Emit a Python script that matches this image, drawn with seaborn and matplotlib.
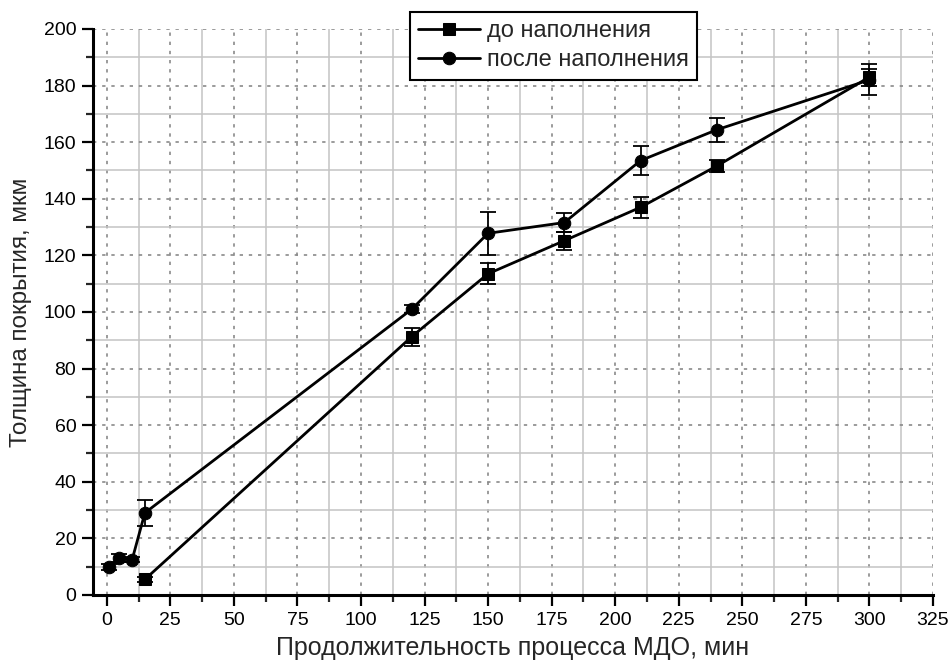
# Толщина покрытия в зависимости от продолжительности МДО
import numpy as np
import pandas as pd
import matplotlib
matplotlib.use('Agg')
import matplotlib.pyplot as plt
from matplotlib.ticker import MultipleLocator
import seaborn as sns

sns.set_theme(style='white')
plt.rcParams['font.family'] = ['Liberation Sans', 'DejaVu Sans']

# --------------------------------------------------
# Данные
# --------------------------------------------------
x_before = [15, 120, 150, 180, 210, 240, 300]
y_before = [5.5, 91.3, 113.5, 125.2, 137.0, 151.6, 183.0]
err_before = [1.0, 3.2, 3.7, 3.2, 3.7, 2.0, 3.0]

x_after = [1, 5, 10, 15, 120, 150, 180, 210, 240, 300]
y_after = [10.0, 13.0, 12.5, 29.0, 101.0, 127.8, 131.6, 153.5, 164.4, 182.0]
err_after = [1.0, 1.5, 1.0, 4.5, 1.5, 7.6, 3.3, 5.0, 4.2, 5.5]

label_before = 'до наполнения'
label_after = 'после наполнения'

df_before = pd.DataFrame({'t': x_before, 'h': y_before, 'err': err_before})
df_after = pd.DataFrame({'t': x_after, 'h': y_after, 'err': err_after})

# --------------------------------------------------
# Рисунок
# --------------------------------------------------
fig = plt.figure(figsize=(9.52, 6.63), dpi=100)
ax = fig.add_axes([0.0977, 0.1026, 0.8823, 0.8537])

# сетка: основная пунктиром, дополнительная сплошной
ax.xaxis.set_major_locator(MultipleLocator(25))
ax.xaxis.set_minor_locator(MultipleLocator(12.5))
ax.yaxis.set_major_locator(MultipleLocator(20))
ax.yaxis.set_minor_locator(MultipleLocator(10))
ax.grid(True, which='major', color='#8a8a8a', linestyle=(0, (2, 3.5)), linewidth=1.2)
ax.grid(True, which='minor', color='#c4c4c4', linestyle='-', linewidth=1.1)
ax.set_axisbelow(True)

for d, mk, ms, lab in [(df_before, 's', 8, label_before),
                       (df_after, 'o', 9, label_after)]:
    ax.errorbar(d['t'], d['h'], yerr=d['err'], fmt='none', ecolor='black',
                elinewidth=1.3, capsize=5.5, capthick=1.3, zorder=3)
    sns.lineplot(data=d, x='t', y='h', ax=ax, color='black', marker=mk,
                 markersize=ms, markeredgecolor='black', linewidth=2.0,
                 sort=False, label=lab, zorder=4)

ax.set_xlim(-5.4, 325)
ax.set_ylim(0, 200)

# оси
for side in ['top', 'right']:
    ax.spines[side].set_visible(False)
for side in ['left', 'bottom']:
    ax.spines[side].set_linewidth(2.2)
    ax.spines[side].set_color('black')

ax.tick_params(which='major', direction='out', length=8, width=1.6,
               labelsize=14, colors='black', bottom=True, left=True, pad=4)
ax.tick_params(which='minor', direction='out', length=5, width=1.6,
               bottom=True, left=True)

ax.set_xlabel('Продолжительность процесса МДО, мин', fontsize=18, labelpad=5)
ax.set_ylabel('Толщина покрытия, мкм', fontsize=17.5, labelpad=8)

leg = ax.legend(loc='upper left', bbox_to_anchor=(410 / 952, 1 - 12 / 663),
                bbox_transform=fig.transFigure, fontsize=17, frameon=True,
                fancybox=False, edgecolor='black', framealpha=1,
                handlelength=2.6, borderpad=0.35, labelspacing=0.3,
                handletextpad=0.3, borderaxespad=0)
leg.get_frame().set_linewidth(1.5)

fig.savefig('out.png', dpi=100)
